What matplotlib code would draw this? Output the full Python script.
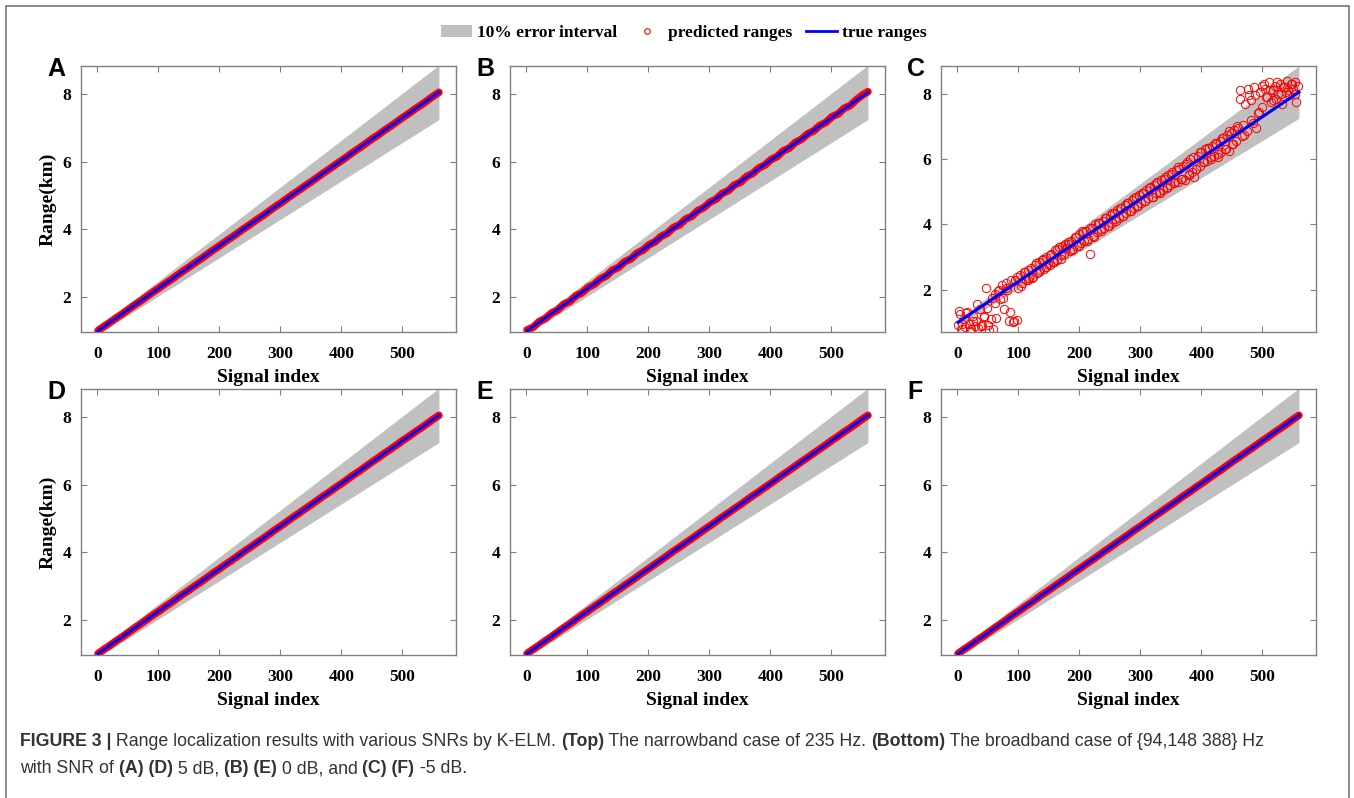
import numpy as np
import matplotlib
matplotlib.use("Agg")
import matplotlib.pyplot as plt
from matplotlib.patches import Patch, Rectangle
from matplotlib.lines import Line2D

# ---- data ----
line_idx = [1, 560]
true_range = [1.0, 8.05]          # km, ground truth
band_low = [0.90, 7.245]          # -10 %
band_high = [1.10, 8.855]         # +10 %

# predicted ranges sampled every 10 signals (clean panels A, D, E, F)
idx_fine = list(range(1, 552, 10)) + [560]
pred_clean = [1.00, 1.13, 1.25, 1.38, 1.50, 1.63, 1.76, 1.88, 2.01, 2.14,
              2.26, 2.39, 2.51, 2.64, 2.77, 2.89, 3.02, 3.14, 3.27, 3.40,
              3.52, 3.65, 3.77, 3.90, 4.03, 4.15, 4.28, 4.40, 4.53, 4.66,
              4.78, 4.91, 5.04, 5.16, 5.29, 5.41, 5.54, 5.67, 5.79, 5.92,
              6.04, 6.17, 6.30, 6.42, 6.55, 6.68, 6.80, 6.93, 7.05, 7.18,
              7.31, 7.43, 7.56, 7.68, 7.81, 7.94, 8.05]
# panel B (0 dB narrowband): tiny scatter round the truth
pred_b = [1.02, 1.10, 1.27, 1.36, 1.52, 1.61, 1.78, 1.86, 2.03, 2.12,
          2.28, 2.37, 2.53, 2.62, 2.79, 2.87, 3.04, 3.12, 3.29, 3.38,
          3.54, 3.63, 3.79, 3.88, 4.05, 4.13, 4.30, 4.38, 4.55, 4.64,
          4.80, 4.89, 5.06, 5.14, 5.31, 5.39, 5.56, 5.65, 5.81, 5.90,
          6.06, 6.15, 6.32, 6.40, 6.57, 6.66, 6.82, 6.91, 7.07, 7.16,
          7.33, 7.41, 7.58, 7.66, 7.83, 7.97, 8.07]

# panel C (-5 dB narrowband): predictions every 3 signals ...
idx_c = list(range(1, 561, 3))
pred_c = [0.92, 1.25, 0.80, 1.10, 0.85, 1.30, 0.95, 0.78, 1.18, 0.88,
          1.05, 0.82, 1.40, 0.90, 1.20, 2.05, 1.45, 0.76, 1.10, 0.80,
          1.85, 1.12, 1.95, 1.70, 2.15, 1.40, 2.05, 1.98, 1.05, 2.30,
          1.02, 2.30, 1.08, 2.05, 2.45, 2.20, 2.55, 2.28, 2.60, 2.35,
          2.65, 2.40, 2.75, 2.50, 2.85, 2.60, 2.90, 2.62, 3.00, 2.78,
          2.75, 3.10, 2.85, 3.20, 2.92, 3.30, 3.05, 3.35, 3.10, 3.28,
          3.40, 3.18, 3.50, 3.25, 3.60, 3.35, 3.70, 3.42, 3.78, 3.50,
          3.80, 3.55, 3.10, 3.90, 3.65, 4.00, 3.75, 4.05, 3.85, 4.10,
          3.90, 4.20, 3.95, 4.30, 4.05, 4.35, 4.15, 4.45, 4.20, 4.50,
          4.25, 4.60, 4.35, 4.65, 4.40, 4.75, 4.50, 4.85, 4.55, 4.90,
          4.65, 4.95, 4.70, 5.05, 4.80, 5.15, 4.85, 5.20, 4.95, 5.30,
          5.00, 5.35, 5.05, 5.45, 5.10, 5.50, 5.20, 5.60, 5.25, 5.65,
          5.30, 5.70, 5.40, 5.80, 5.35, 5.90, 5.50, 6.00, 5.60, 5.45,
          5.70, 6.10, 5.80, 6.20, 5.90, 6.30, 5.95, 6.35, 6.05, 6.40,
          6.10, 6.45, 6.05, 6.55, 6.20, 6.65, 6.30, 6.75, 6.25, 6.80,
          6.45, 6.90, 6.55, 6.95, 8.10, 6.70, 7.05, 7.70, 6.85, 7.95,
          7.80, 7.10, 8.20, 6.95, 7.40, 8.05, 7.60, 8.30, 8.15, 7.90,
          8.35, 7.75, 8.10, 8.25, 7.85, 8.00, 8.30, 7.70, 8.20, 8.05,
          8.40, 7.95, 8.30, 8.15, 8.35, 7.75, 8.25]
# ... and a second pass of signals in between
idx_c2 = list(range(2, 555, 6))
pred_c2 = [1.35, 0.95, 1.28, 0.72, 1.05, 1.55, 0.88, 1.15, 0.92, 1.75,
           1.60, 2.00, 1.75, 2.20, 1.30, 1.05, 2.40, 2.10, 2.55, 2.30,
           2.35, 2.80, 2.55, 2.95, 2.70, 3.05, 2.85, 3.25, 2.95, 3.40,
           3.45, 3.20, 3.60, 3.35, 3.75, 3.50, 3.90, 3.60, 4.05, 3.80,
           4.20, 3.95, 4.35, 4.10, 4.50, 4.25, 4.65, 4.40, 4.80, 4.55,
           4.95, 4.70, 5.10, 4.85, 5.25, 4.95, 5.40, 5.15, 5.55, 5.30,
           5.75, 5.40, 5.85, 5.55, 6.05, 5.70, 6.20, 5.90, 6.35, 6.00,
           6.50, 6.15, 6.65, 6.30, 6.85, 6.45, 7.00, 7.85, 6.75, 8.15,
           7.20, 7.95, 7.45, 8.25, 7.90, 8.10, 7.80, 8.35, 8.00, 8.20,
           8.10, 8.30, 8.00]

panels = ["A", "B", "C", "D", "E", "F"]
preds = {"A": pred_clean, "B": pred_b,
         "D": pred_clean, "E": pred_clean, "F": pred_clean}
x_ticks = [0, 100, 200, 300, 400, 500]
y_ticks = [2, 4, 6, 8]

W, H = 1354, 798
fig = plt.figure(figsize=(W / 100, H / 100), dpi=100)
serif = "Liberation Serif"
sans = "Liberation Sans"

lefts = [81, 510, 941]
tops = [66, 389]
aw, ah = 375, 266

for k, p in enumerate(panels):
    r, c = divmod(k, 3)
    ax = fig.add_axes([lefts[c] / W, 1 - (tops[r] + ah) / H, aw / W, ah / H])
    ax.fill_between(line_idx, band_low, band_high, color="#c0c0c0", lw=0, zorder=1)
    if p == "C":
        ax.plot(idx_c, pred_c, "o", mfc="none", mec="red", ms=6, mew=0.7, zorder=2)
        ax.plot(idx_c2, pred_c2, "o", mfc="none", mec="red", ms=6, mew=0.7, zorder=2)
        ax.set_ylim(0.7, 8.85)
    else:
        ax.plot(idx_fine, preds[p], "-", color="red", lw=5.5,
                solid_capstyle="round", zorder=2)
        ax.set_ylim(0.96, 8.83)
    ax.plot(line_idx, true_range, color="#0000ff", lw=2.2, zorder=3)
    ax.set_xlim(-27, 588)
    ax.set_xticks(x_ticks)
    ax.set_yticks(y_ticks)
    ax.tick_params(direction="in", top=True, right=True, length=4, width=0.8,
                   color="#808080", labelsize=12.5)
    ax.tick_params(axis="x", pad=10)
    ax.tick_params(axis="y", pad=7)
    for lab in ax.get_xticklabels() + ax.get_yticklabels():
        lab.set_fontfamily(serif)
        lab.set_fontweight("bold")
    for s in ax.spines.values():
        s.set_color("#808080")
        s.set_linewidth(1.0)
    ax.set_xlabel("Signal index", fontfamily=serif, fontweight="bold",
                  fontsize=14, labelpad=5)
    if c == 0:
        ax.set_ylabel("Range(km)", fontfamily=serif, fontweight="bold",
                      fontsize=14, labelpad=4)
    fig.text((lefts[c] - 34) / W, 1 - (tops[r] + 10) / H, p, fontfamily=sans,
             fontweight="bold", fontsize=18, ha="left", va="baseline")

# legend
handles = [Patch(facecolor="#c0c0c0", edgecolor="none"),
           Line2D([], [], ls="none", marker="o", mfc="none", mec="red", ms=4, mew=0.8),
           Line2D([], [], color="#0000ff", lw=2)]
fig.legend(handles, ["10% error interval", "predicted ranges", "true ranges"],
           loc="center", bbox_to_anchor=(0.505, 1 - 33 / H), ncol=3, frameon=False,
           prop={"family": serif, "weight": "bold", "size": 12.5},
           handlelength=1.8, handletextpad=0.3, columnspacing=0.8)

# outer border
fig.add_artist(Rectangle((6 / W, -0.05), (1349 - 6) / W, 1.05 - 6 / H,
                         transform=fig.transFigure, fill=False,
                         edgecolor="#777777", lw=1.2))

# caption with bold runs
cap_font = "Liberation Sans"
lines = [
    [("FIGURE 3 |", "bold"), (" Range localization results with various SNRs by K-ELM. ", "normal"),
     ("(Top)", "bold"), (" The narrowband case of 235 Hz. ", "normal"),
     ("(Bottom)", "bold"), (" The broadband case of {94,148 388} Hz", "normal")],
    [("with SNR of ", "normal"), ("(A) (D)", "bold"), (" 5 dB, ", "normal"),
     ("(B) (E)", "bold"), (" 0 dB, and ", "normal"), ("(C) (F)", "bold"),
     (" -5 dB.", "normal")],
]
renderer = fig.canvas.get_renderer()

# pick the font size so that the first caption line spans the same width
probe = 0.0
for txt, wt in lines[0]:
    t = fig.text(0, 0, txt, fontfamily=cap_font, fontweight=wt, fontsize=10)
    probe += t.get_window_extent(renderer).width
    t.remove()
cap_size = 10 * 1242 / probe

for li, runs in enumerate(lines):
    x = 20 / W
    y = 1 - (746 + li * 27) / H
    for txt, wt in runs:
        t = fig.text(x, y, txt, fontfamily=cap_font, fontweight=wt,
                     fontsize=cap_size, ha="left", va="baseline", color="#333333")
        x += t.get_window_extent(renderer).width / W

fig.savefig("out.png", dpi=100)
